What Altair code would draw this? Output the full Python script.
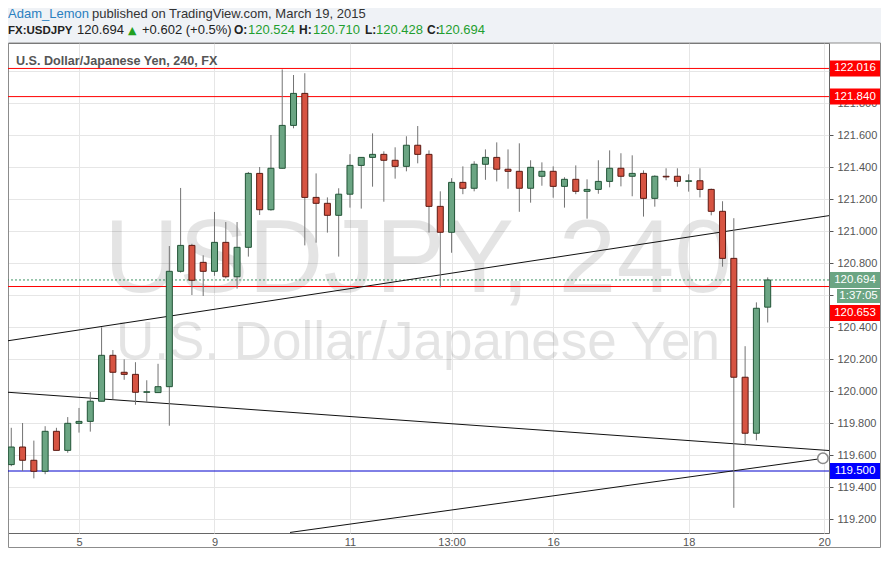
import altair as alt
import pandas as pd

# ---------------- data ----------------
candle_index = list(range(68))
opens = [119.54, 119.65, 119.567, 119.498, 119.748, 119.629, 119.798, 119.81, 119.936, 120.223,
         120.117, 120.104, 119.992, 119.99, 120.027, 120.748, 120.91, 120.804, 120.748, 120.929,
         120.714, 120.898, 121.36, 121.133, 121.392, 121.66, 121.86, 121.21, 121.173, 121.098,
         121.23, 121.41, 121.46, 121.479, 121.442, 121.404, 121.536, 121.479, 121.154, 120.992,
         121.304, 121.267, 121.417, 121.46, 121.386, 121.373, 121.267, 121.342, 121.373, 121.279,
         121.323, 121.248, 121.26, 121.31, 121.392, 121.342, 121.36, 121.204, 121.342, 121.342,
         121.31, 121.314, 121.26, 121.123, 120.829, 120.086, 119.736, 120.524]
highs = [119.77, 119.80, 119.69, 119.78, 119.77, 119.837, 119.894, 119.994, 120.398, 120.256,
         120.198, 120.18, 120.067, 120.17, 120.906, 121.269, 120.92, 120.848, 121.119, 121.056,
         121.056, 121.369, 121.40, 121.60, 122.01, 121.975, 121.986, 121.36, 121.21, 121.267,
         121.48, 121.46, 121.61, 121.498, 121.523, 121.592, 121.656, 121.504, 121.248, 121.33,
         121.404, 121.436, 121.51, 121.554, 121.51, 121.548, 121.442, 121.429, 121.404, 121.336,
         121.41, 121.323, 121.442, 121.504, 121.486, 121.473, 121.379, 121.348, 121.392, 121.392,
         121.354, 121.392, 121.265, 121.186, 121.08, 120.28, 120.554, 120.710]
lows = [119.53, 119.50, 119.454, 119.48, 119.629, 119.614, 119.74, 119.746, 119.936, 119.948,
        120.07, 119.914, 119.93, 119.99, 119.783, 120.74, 120.60, 120.594, 120.72, 120.704,
        120.64, 120.84, 121.10, 121.127, 121.39, 121.642, 120.91, 120.927, 120.99, 120.84,
        121.146, 121.14, 121.277, 121.183, 121.327, 121.373, 121.423, 120.99, 120.648, 120.864,
        121.23, 121.248, 121.32, 121.31, 121.264, 121.12, 121.177, 121.283, 121.208, 121.146,
        121.23, 121.077, 121.233, 121.273, 121.279, 121.217, 121.09, 121.152, 121.317, 121.277,
        121.246, 121.21, 121.098, 120.777, 119.27, 119.66, 119.692, 120.428]
closes = [119.65, 119.567, 119.498, 119.748, 119.629, 119.798, 119.81, 119.936, 120.223, 120.117,
          120.104, 119.992, 119.995, 120.027, 120.748, 120.91, 120.692, 120.748, 120.929, 120.714,
          120.898, 121.36, 121.133, 121.392, 121.66, 121.86, 121.21, 121.173, 121.098, 121.23,
          121.41, 121.46, 121.479, 121.442, 121.404, 121.536, 121.479, 121.154, 120.992, 121.304,
          121.267, 121.417, 121.46, 121.386, 121.373, 121.267, 121.398, 121.373, 121.279, 121.323,
          121.248, 121.26, 121.31, 121.392, 121.342, 121.36, 121.204, 121.342, 121.338, 121.31,
          121.314, 121.26, 121.123, 120.829, 120.086, 119.736, 120.517, 120.694]

x_tick_values = [6, 18, 30, 39, 48, 60, 72]
x_tick_labels = ["5", "9", "11", "13:00", "16", "18", "20"]
price_ticks = [119.2, 119.4, 119.6, 119.8, 120.0, 120.2, 120.4, 120.6, 120.8,
               121.0, 121.2, 121.4, 121.6, 121.8, 122.0]

resistance_levels = [122.016, 121.840]
prior_level = 120.653
last_price = 120.694
support_level = 119.500
countdown = "1:37:05"

upper_x = [-0.29, 72.43]
upper_p = [120.314, 121.096]
middle_x = [-0.29, 72.43]
middle_p = [119.992, 119.628]
lower_x = [24.69, 71.89]
lower_p = [119.116, 119.579]

X_DOMAIN = [-0.29, 72.43]
Y_DOMAIN = [119.1125, 122.175]

# ---------------- styles ----------------
UP_FILL, UP_LINE = "#6ba583", "#225437"
DN_FILL, DN_LINE = "#d75442", "#5b1a13"
WICK = "#737373"
GRID = "#e6e6e6"
AXIS = "#555555"
FONT = "Arial, 'Liberation Sans', sans-serif"
GREEN_TXT = "#1f9f2f"

df = pd.DataFrame({"i": candle_index, "o": opens, "h": highs, "l": lows, "c": closes})
up = df["c"] >= df["o"]
df["fill"] = [UP_FILL if u else DN_FILL for u in up]
df["edge"] = [UP_LINE if u else DN_LINE for u in up]

xs = alt.Scale(domain=X_DOMAIN, nice=False, zero=False, padding=0)
ys = alt.Scale(domain=Y_DOMAIN, nice=False, zero=False, padding=0)

label_expr = " : ".join(
    f"datum.value == {v} ? '{t}'" for v, t in zip(x_tick_values, x_tick_labels)
) + " : ''"

x_axis = alt.Axis(values=x_tick_values, labelExpr=label_expr, title=None, tickSize=0,
                  grid=True, gridColor=GRID, domain=False, labelColor=AXIS,
                  labelFontSize=11, labelFont=FONT, labelPadding=3, labelFlush=False,
                  labelOverlap=False)
y_axis = alt.Axis(orient="right", values=price_ticks, format=".3f", title=None, tickSize=4,
                  tickColor=AXIS, grid=True, gridColor=GRID, domain=False, labelColor=AXIS,
                  labelFontSize=11, labelFont=FONT, labelPadding=4, labelFlush=False,
                  labelOverlap=False)


def X(f):
    return alt.X(f, type="quantitative", scale=xs, axis=x_axis)


def Y(f):
    return alt.Y(f, type="quantitative", scale=ys, axis=y_axis)


def one(**kw):
    return pd.DataFrame({k: [v] for k, v in kw.items()})


def label(text, x, y, size=13, color="#333333", weight="normal", align="left",
          font=FONT, baseline="alphabetic", opacity=1.0):
    return alt.Chart(one(t=text)).mark_text(
        align=align, baseline=baseline, fontSize=size, font=font, fontWeight=weight,
        color=color, opacity=opacity
    ).encode(x=alt.value(x), y=alt.value(y), text="t:N")


# header band and outer frame
band = alt.Chart(one(a=0)).mark_rect(color="#eff2f6").encode(
    x=alt.value(0), x2=alt.value(873), y=alt.value(-35), y2=alt.value(0))
frame = alt.Chart(one(a=0)).mark_rect(fill=None, stroke="#8c8c8c", strokeWidth=1).encode(
    x=alt.value(0.5), x2=alt.value(872.5), y=alt.value(0), y2=alt.value(504.5))

# watermark
wm1 = label("USDJPY, 240", 410, 248.7, size=104, color="#000000", align="center", opacity=0.1)
wm2 = label("U.S. Dollar/Japanese Yen", 410, 316.3, size=53, color="#000000", align="center",
            opacity=0.1)

# horizontal levels
res_df = pd.DataFrame({"p": resistance_levels + [prior_level]})
res_rules = alt.Chart(res_df).mark_rule(color="#ff0000", strokeWidth=1).encode(y=Y("p"))
last_rule = alt.Chart(one(p=last_price)).mark_rule(
    color="#3f9463", strokeWidth=1, strokeDash=[2, 2]).encode(y=Y("p"))
sup_rule = alt.Chart(one(p=support_level)).mark_rule(color="#0000cc", strokeWidth=1).encode(
    y=Y("p"))


def trend(xv, pv):
    return alt.Chart(pd.DataFrame({"x": xv, "p": pv})).mark_line(
        color="#111111", strokeWidth=1, clip=True).encode(x=X("x"), y=Y("p"))


tl1 = trend(upper_x, upper_p)
tl2 = trend(middle_x, middle_p)
tl3 = trend(lower_x, lower_p)
handle = alt.Chart(pd.DataFrame({"x": [lower_x[-1]], "p": [lower_p[-1]]})).mark_point(
    shape="circle", size=110, filled=True, fill="white", fillOpacity=1, stroke="#8a8a8a",
    strokeWidth=1.5, opacity=1).encode(x=X("x"), y=Y("p"))

# candles
wicks = alt.Chart(df).mark_rule(color=WICK, strokeWidth=1).encode(
    x=X("i"), y=Y("l"), y2=alt.Y2("h"))
bodies = alt.Chart(df).mark_bar(size=6, strokeWidth=1).encode(
    x=X("i"), y=Y("o"), y2=alt.Y2("c"),
    color=alt.Color("fill:N", scale=None), stroke=alt.Stroke("edge:N", scale=None))


# price label boxes on the right axis
def box(price, text, fill, shift=0.0, x0=822, x1=872, half=8):
    d = one(p=price, t=text)
    r = alt.Chart(d).mark_rect(color=fill, yOffset=shift - half, y2Offset=shift + half).encode(
        x=alt.value(x0), x2=alt.value(x1), y=Y("p"), y2=alt.Y2("p"))
    t = alt.Chart(d).mark_text(color="white", fontSize=11.5, font=FONT, align="center",
                               baseline="middle", dy=shift).encode(
        x=alt.value((x0 + x1) / 2), y=Y("p"), text="t:N")
    return [r, t]


boxes = []
for lv in resistance_levels:
    boxes += box(lv, f"{lv:.3f}", "#ff0000")
boxes += box(last_price, f"{last_price:.3f}", "#6ba583")
boxes += box(last_price, countdown, "#6ba583", shift=16, x0=829, half=7)
boxes += box(prior_level, f"{prior_level:.3f}", "#ff0000", shift=26.5)
boxes += box(support_level, f"{support_level:.3f}", "#0000ff")

# header texts
header = [
    label("Adam_Lemon", 0, -25.5, color="#2a7fc0"),
    label("published on TradingView.com, March 19, 2015", 84, -25.5, color="#333333"),
    label("FX:USDJPY", 0, -9, size=11.5, weight="bold", color="#222222"),
    label("120.694", 69, -9, color="#222222"),
    label("\u25b2", 120, -9, size=11, color="#22a022", font="DejaVu Sans"),
    label("+0.602 (+0.5%)", 134, -9, color="#222222"),
    label("O:", 226, -9, size=12, weight="bold", color="#222222"),
    label("120.524", 240, -9, color=GREEN_TXT),
    label("H:", 291, -9, size=12, weight="bold", color="#222222"),
    label("120.710", 305, -9, color=GREEN_TXT),
    label("L:", 357, -9, size=12, weight="bold", color="#222222"),
    label("120.428", 368, -9, color=GREEN_TXT),
    label("C:", 419, -9, size=12, weight="bold", color="#222222"),
    label("120.694", 430, -9, color=GREEN_TXT),
    label("U.S. Dollar/Japanese Yen, 240, FX", 8, 22, size=12.6, weight="bold", color="#555555"),
]

chart = alt.layer(
    band, frame, wm1, wm2, res_rules, last_rule, sup_rule, tl1, tl2, tl3,
    wicks, bodies, handle, *boxes, *header
).properties(
    width=821, height=490,
    padding={"left": 0, "top": 35, "right": 52, "bottom": 15},
    autosize=alt.AutoSizeParams(type="none"),
    background="white",
).configure_view(stroke="#666666", strokeWidth=1)

chart.save("out.html", embed_options={"renderer": "svg", "actions": False})
